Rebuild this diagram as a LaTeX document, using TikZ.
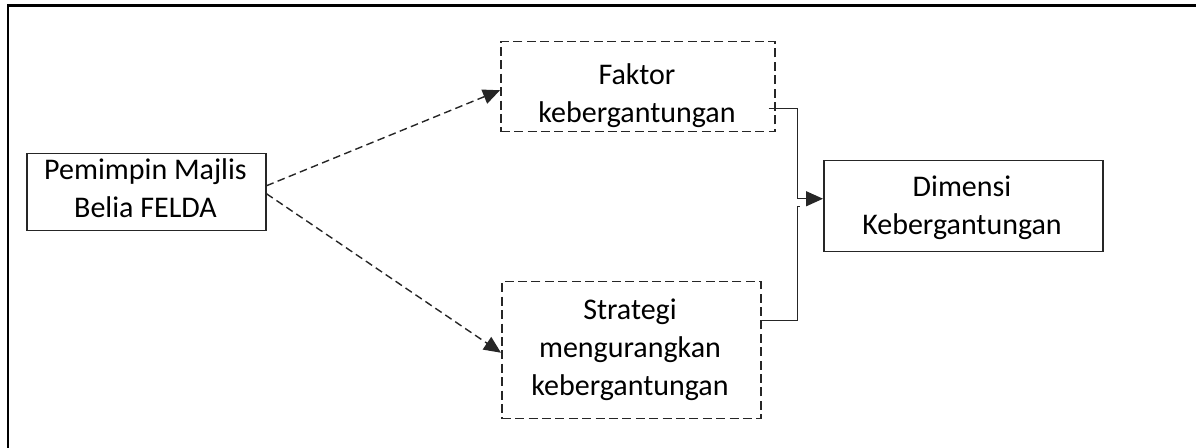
\documentclass[tikz,border=0pt]{standalone}
\usepackage{fontspec}
\setmainfont{Carlito}
\usetikzlibrary{arrows.meta,calc}
\begin{document}
\begin{tikzpicture}[x=0.5pt,y=-0.5pt,
  box/.style={draw=black!85, line width=0.75pt, inner sep=0pt, anchor=north west},
  dbox/.style={box, dash pattern=on 4.5pt off 2.2pt},
  txt/.style={align=center, inner sep=0pt, font=\fontsize{15pt}{19pt}\selectfont},
  link/.style={draw=black!85, line width=0.7pt},
  arr/.style={link, -{Triangle[length=8.5pt,width=7.5pt]}},
  darr/.style={arr, dash pattern=on 3.8pt off 2.2pt}]
\useasboundingbox (0,0) rectangle (1196,448);
\draw[line width=1.4pt] (8,5.5) rectangle (1215,470);
% boxes
\node[box, minimum width=119.5pt, minimum height=38.5pt] (L) at (26,153) {};
\node[dbox, minimum width=137pt, minimum height=45pt] (F) at (500,41) {};
\node[dbox, minimum width=129.5pt, minimum height=68.5pt] (S) at (501,281) {};
\node[box, minimum width=139.5pt, minimum height=45.5pt] (D) at (823,160) {};
% texts
\node[txt] (Lt) at (145.5,188) {Pemimpin Majlis\\Belia FELDA};
\node[txt] (Ft) at (637,96) {Faktor\\kebergantungan};
\node[txt] (St) at (630,350) {Strategi\\mengurangkan\\kebergantungan};
\node[txt] (Dt) at (962,208) {Dimensi\\Kebergantungan};
% connectors
\draw[darr] ($(L.east)+(0,-6.5)$) -- ($(F.west)+(0,3.5)$);
\draw[darr] ($(L.east)+(0,1.5)$) -- ($(S.west)+(0,2.5)$);
\draw[arr] ($(F.east)+(-7,21.5)$) -- ++(29,0) |- ($(D.west)+(0,-7.5)$);
\coordinate (j2) at ($(D.west)+(-23,0.5)$);
\draw[link] ($(S.east)+(0,-29.5)$) -- ++(36,0) |- (j2);
\end{tikzpicture}
\end{document}
